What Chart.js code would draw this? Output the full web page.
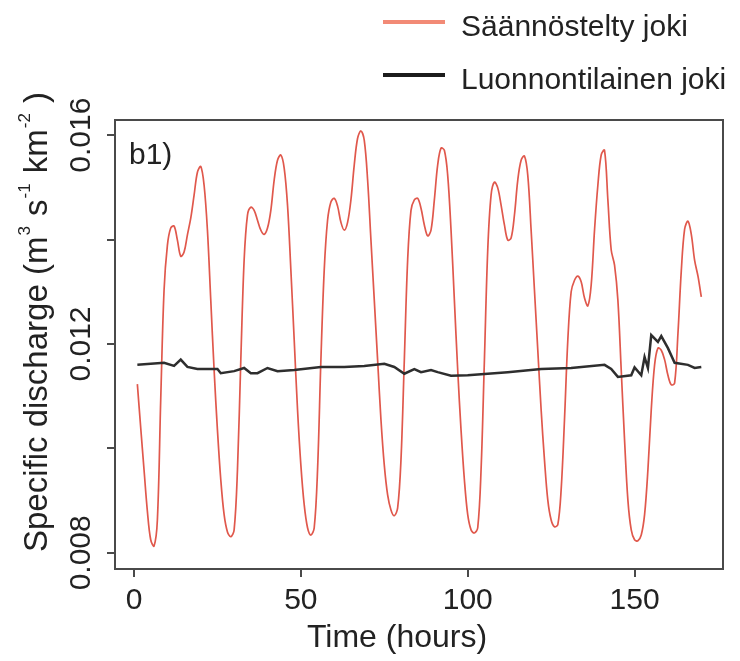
<!DOCTYPE html>
<html>
<head>
<meta charset="utf-8">
<script src="https://cdn.jsdelivr.net/npm/chart.js@4.4.1/dist/chart.umd.min.js"></script>
<style>
  html, body { margin: 0; padding: 0; background: #fff; }
  #wrap { width: 740px; height: 661px; }
</style>
</head>
<body>
<div id="wrap"><canvas id="graph" width="740" height="661"></canvas></div>
<script>
// --- data ---
const seriesNames = ['Säännöstelty joki', 'Luonnontilainen joki'];

// regulated river, hourly
const hoursRegulated = [
  1, 2, 3, 4, 5, 6, 7, 8, 9, 10, 11, 12, 13, 14, 15, 16, 17, 18, 19, 20,
  21, 22, 23, 24, 25, 26, 27, 28, 29, 30, 31, 32, 33, 34, 35, 36, 37, 38, 39, 40,
  41, 42, 43, 44, 45, 46, 47, 48, 49, 50, 51, 52, 53, 54, 55, 56, 57, 58, 59, 60,
  61, 62, 63, 64, 65, 66, 67, 68, 69, 70, 71, 72, 73, 74, 75, 76, 77, 78, 79, 80,
  81, 82, 83, 84, 85, 86, 87, 88, 89, 90, 91, 92, 93, 94, 95, 96, 97, 98, 99, 100,
  101, 102, 103, 104, 105, 106, 107, 108, 109, 110, 111, 112, 113, 114, 115, 116, 117, 118, 119, 120,
  121, 122, 123, 124, 125, 126, 127, 128, 129, 130, 131, 132, 133, 134, 135, 136, 137, 138, 139, 140,
  141, 142, 143, 144, 145, 146, 147, 148, 149, 150, 151, 152, 153, 154, 155, 156, 157, 158, 159, 160,
  161, 162, 163, 164, 165, 166, 167, 168, 169, 170
];
const regulated = [
  0.01123, 0.01040, 0.00959, 0.00880, 0.00825, 0.00813, 0.00863, 0.01093, 0.01303, 0.01389,
  0.01422, 0.01426, 0.01399, 0.01368, 0.01376, 0.01409, 0.01441, 0.01485, 0.01529, 0.01540,
  0.01504, 0.01418, 0.01284, 0.01150, 0.01035, 0.00940, 0.00873, 0.00840, 0.00831, 0.00844,
  0.00959, 0.01169, 0.01361, 0.01447, 0.01462, 0.01456, 0.01437, 0.01418, 0.01410, 0.01422,
  0.01456, 0.01514, 0.01552, 0.01562, 0.01537, 0.01466, 0.01342, 0.01208, 0.01074, 0.00968,
  0.00892, 0.00848, 0.00834, 0.00848, 0.00959, 0.01169, 0.01342, 0.01437, 0.01472, 0.01479,
  0.01464, 0.01433, 0.01418, 0.01433, 0.01476, 0.01543, 0.01594, 0.01608, 0.01590, 0.01514,
  0.01399, 0.01284, 0.01169, 0.01055, 0.00968, 0.00911, 0.00882, 0.00871, 0.00886, 0.00978,
  0.01169, 0.01361, 0.01456, 0.01476, 0.01479, 0.01460, 0.01428, 0.01407, 0.01418, 0.01476,
  0.01543, 0.01575, 0.01571, 0.01523, 0.01418, 0.01284, 0.01150, 0.01035, 0.00940, 0.00873,
  0.00844, 0.00838, 0.00848, 0.00959, 0.01169, 0.01380, 0.01485, 0.01510, 0.01499, 0.01466,
  0.01428, 0.01399, 0.01403, 0.01447, 0.01514, 0.01552, 0.01560, 0.01523, 0.01418, 0.01303,
  0.01188, 0.01074, 0.00978, 0.00901, 0.00863, 0.00850, 0.00854, 0.00921, 0.01055, 0.01208,
  0.01300, 0.01322, 0.01330, 0.01319, 0.01288, 0.01273, 0.01313, 0.01418, 0.01504, 0.01562,
  0.01571, 0.01476, 0.01380, 0.01351, 0.01284, 0.01150, 0.01016, 0.00901, 0.00844, 0.00825,
  0.00823, 0.00834, 0.00873, 0.00959, 0.01074, 0.01160, 0.01192, 0.01188, 0.01170, 0.01140,
  0.01122, 0.01125, 0.01220, 0.01340, 0.01420, 0.01435, 0.01410, 0.01360, 0.01330, 0.01290
];

// natural river, hours where it changes
const hoursNatural = [
  1, 9, 12, 14, 16, 19, 25, 26, 30, 33, 35, 37, 40, 43, 48, 56, 63, 69, 75, 78,
  81, 84, 86, 89, 91, 95, 100, 112, 122, 131, 141, 143, 145, 149, 150, 152, 153, 154, 155, 157,
  158, 160, 162, 166, 168, 170
];
const natural = [
  0.01160, 0.01164, 0.01158, 0.01170, 0.01156, 0.01152, 0.01152, 0.01144, 0.01148, 0.01154,
  0.01144, 0.01144, 0.01154, 0.01148, 0.01150, 0.01156, 0.01156, 0.01158, 0.01162, 0.01156,
  0.01143, 0.01152, 0.01146, 0.01150, 0.01146, 0.01139, 0.01140, 0.01146, 0.01152, 0.01154,
  0.01160, 0.01152, 0.01137, 0.01140, 0.01155, 0.01140, 0.01175, 0.01154, 0.01217, 0.01204,
  0.01215, 0.01192, 0.01164, 0.01160, 0.01154, 0.01156
];

const xTicks = [0, 50, 100, 150];
const xTickLabels = ['0', '50', '100', '150'];
const yTicks = [0.008, 0.012, 0.016];
const yTickLabels = ['0.008', '0.012', '0.016'];

// y title pieces, second value = superscript
const yTitleParts = [['Specific discharge (m', 0], ['3', 1], [' s', 0], ['-1', 1], [' km', 0], ['-2', 1], [' )', 0]];

const fontFam = '"Liberation Sans", Arial, Helvetica, sans-serif';
const ink = '#222';

function pts(xs, ys) {
  return xs.map((x, i) => ({ x: x, y: ys[i] }));
}

// frame, labels, titles and the legend are drawn by hand (R-style axes)
const rStyle = {
  id: 'rStyle',
  afterDraw(chart) {
    const ctx = chart.ctx;
    const a = chart.chartArea;
    const sx = chart.scales.x, sy = chart.scales.y;
    ctx.save();

    ctx.strokeStyle = '#4a4a4a';
    ctx.lineWidth = 2;
    ctx.strokeRect(a.left, a.top, a.right - a.left, a.bottom - a.top);

    ctx.fillStyle = ink;
    ctx.font = '30px ' + fontFam;
    ctx.textAlign = 'center';
    ctx.textBaseline = 'middle';
    xTicks.forEach((v, i) => {
      ctx.fillText(xTickLabels[i], sx.getPixelForValue(v), 601);
    });
    yTicks.forEach((v, i) => {
      ctx.save();
      ctx.translate(82, sy.getPixelForValue(v));
      ctx.rotate(-Math.PI / 2);
      ctx.fillText(yTickLabels[i], 0, 0);
      ctx.restore();
    });

    ctx.font = '32px ' + fontFam;
    ctx.fillText('Time (hours)', 397, 638);

    // y title with small raised exponents
    const big = '33px ' + fontFam, small = '17px ' + fontFam;
    let total = 0;
    yTitleParts.forEach(p => { ctx.font = p[1] ? small : big; total += ctx.measureText(p[0]).width + (p[1] ? 2 : 0); });
    ctx.save();
    ctx.translate(47, 322);
    ctx.rotate(-Math.PI / 2);
    ctx.textAlign = 'left';
    ctx.textBaseline = 'alphabetic';
    let px = -total / 2;
    yTitleParts.forEach(p => {
      ctx.font = p[1] ? small : big;
      ctx.fillText(p[0], px + (p[1] ? 1 : 0), p[1] ? -17 : 0);
      px += ctx.measureText(p[0]).width + (p[1] ? 2 : 0);
    });
    ctx.restore();

    ctx.textAlign = 'left';
    ctx.textBaseline = 'alphabetic';
    ctx.font = '30px ' + fontFam;
    ctx.fillText('b1)', 129, 164);

    // legend
    const legendCols = ['#f28a76', '#1c1c1c'];
    const rows = [22, 75];
    ctx.font = '30px ' + fontFam;
    seriesNames.forEach((name, i) => {
      ctx.strokeStyle = legendCols[i];
      ctx.lineWidth = 4;
      ctx.beginPath();
      ctx.moveTo(383, rows[i]);
      ctx.lineTo(445, rows[i]);
      ctx.stroke();
      ctx.fillStyle = ink;
      ctx.fillText(name, 461, rows[i] + 14);
    });
    ctx.restore();
  }
};

const ctx = document.getElementById('graph').getContext('2d');
new Chart(ctx, {
  type: 'line',
  data: {
    datasets: [
      {
        label: seriesNames[0],
        data: pts(hoursRegulated, regulated),
        borderColor: '#e0584c',
        borderWidth: 1.7,
        pointRadius: 0,
        tension: 0.35,
        order: 1
      },
      {
        label: seriesNames[1],
        data: pts(hoursNatural, natural),
        borderColor: '#2e2e2e',
        borderWidth: 2.5,
        pointRadius: 0,
        tension: 0,
        order: 0
      }
    ]
  },
  options: {
    responsive: false,
    animation: false,
    layout: { padding: { top: 120, right: 17, left: 0, bottom: 0 } },
    plugins: {
      legend: { display: false },
      tooltip: { enabled: false }
    },
    scales: {
      x: {
        type: 'linear',
        min: -5.7,
        max: 176.5,
        afterFit: s => { s.height = 92; },
        border: { display: false },
        grid: { drawOnChartArea: false, tickLength: 8, color: '#4a4a4a', lineWidth: 2 },
        ticks: { stepSize: 50, includeBounds: false, display: false }
      },
      y: {
        type: 'linear',
        min: 0.00769,
        max: 0.01629,
        afterFit: s => { s.width = 115; },
        border: { display: false },
        grid: { drawOnChartArea: false, tickLength: 8, color: '#4a4a4a', lineWidth: 2 },
        ticks: { stepSize: 0.002, includeBounds: false, display: false }
      }
    }
  },
  plugins: [rStyle]
});
</script>
</body>
</html>
